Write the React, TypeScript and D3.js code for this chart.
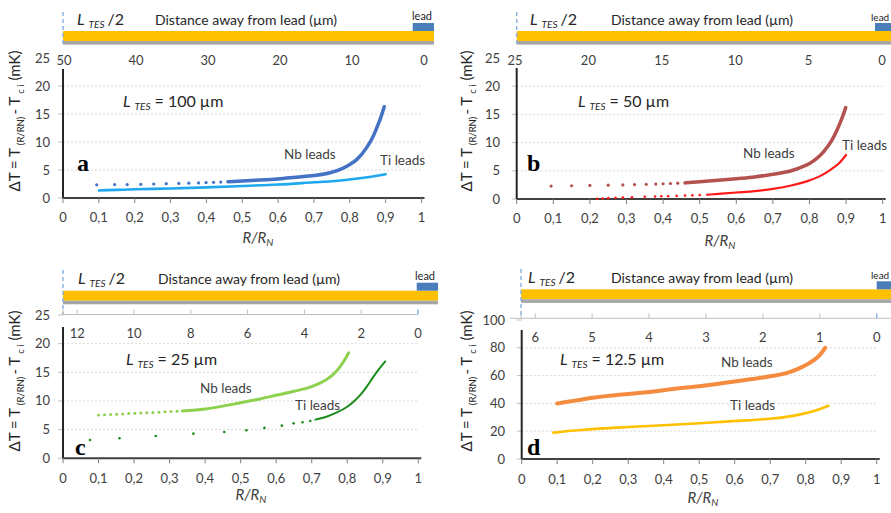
import React from "react";
import * as d3 from "d3";

type Pt = [number, number];

// ---------- ticks & labels ----------
const rTicks = [0, 0.1, 0.2, 0.3, 0.4, 0.5, 0.6, 0.7, 0.8, 0.9, 1];
const rTickLabels = ["0", "0,1", "0,2", "0,3", "0,4", "0,5", "0,6", "0,7", "0,8", "0,9", "1"];
const dTTicksSmall = [0, 5, 10, 15, 20, 25];
const dTTicksLarge = [0, 20, 40, 60, 80, 100];
const distTicksA = [50, 40, 30, 20, 10, 0];
const distTicksB = [25, 20, 15, 10, 5, 0];
const distTicksC = [12, 10, 8, 6, 4, 2, 0];
const distTicksD = [6, 5, 4, 3, 2, 1, 0];
const tesLengths = ["100", "50", "25", "12.5"];
const halfLengths = [50, 25, 12.5, 6.25];
const panelLetters = ["a", "b", "c", "d"];
const seriesNames = ["Nb leads", "Ti leads"];

// ---------- data (R/RN, ΔT mK) ----------
// panel a, L = 100 µm
const nbA_dots: Pt[] = [[0.094, 2.35], [0.144, 2.4], [0.179, 2.4], [0.217, 2.45], [0.253, 2.5], [0.288, 2.55], [0.323, 2.6], [0.351, 2.65], [0.378, 2.7], [0.399, 2.75], [0.42, 2.8], [0.44, 2.85]];
const nbA_curve: Pt[] = [[0.46, 2.9], [0.5, 3.05], [0.55, 3.2], [0.6, 3.4], [0.65, 3.7], [0.7, 4.0], [0.745, 4.5], [0.78, 5.3], [0.8, 6.0], [0.82, 6.9], [0.847, 9.0], [0.865, 11.0], [0.875, 12.5], [0.886, 14.3], [0.896, 16.3]];
const tiA_dots: Pt[] = [];
const tiA_curve: Pt[] = [[0.1, 1.35], [0.15, 1.45], [0.2, 1.55], [0.3, 1.7], [0.4, 1.9], [0.5, 2.15], [0.6, 2.4], [0.7, 2.8], [0.75, 3.0], [0.8, 3.3], [0.85, 3.7], [0.9, 4.25]];
// panel b, L = 50 µm
const nbB_dots: Pt[] = [[0.094, 2.3], [0.15, 2.35], [0.2, 2.4], [0.25, 2.45], [0.29, 2.5], [0.322, 2.55], [0.354, 2.6], [0.38, 2.65], [0.4, 2.7], [0.42, 2.75], [0.44, 2.8]];
const nbB_curve: Pt[] = [[0.46, 2.85], [0.5, 3.05], [0.6, 3.6], [0.65, 3.9], [0.7, 4.4], [0.75, 5.0], [0.78, 5.7], [0.8, 6.3], [0.82, 7.2], [0.84, 8.5], [0.86, 10.3], [0.875, 12.2], [0.888, 14.2], [0.899, 16.2]];
const tiB_dots: Pt[] = [[0.22, 0.05], [0.235, 0.1], [0.25, 0.15], [0.27, 0.2], [0.29, 0.25], [0.315, 0.3], [0.35, 0.4], [0.378, 0.45], [0.395, 0.5], [0.414, 0.5], [0.437, 0.55], [0.46, 0.6], [0.48, 0.65], [0.5, 0.7]];
const tiB_curve: Pt[] = [[0.52, 0.75], [0.6, 1.15], [0.65, 1.4], [0.7, 1.8], [0.75, 2.4], [0.8, 3.3], [0.83, 4.1], [0.86, 5.3], [0.88, 6.3], [0.9, 7.8]];
// panel c, L = 25 µm
const nbC_dots: Pt[] = [[0.1, 7.55], [0.117, 7.6], [0.134, 7.65], [0.151, 7.7], [0.168, 7.75], [0.185, 7.8], [0.202, 7.85], [0.219, 7.9], [0.236, 7.95], [0.253, 8.0], [0.27, 8.05], [0.287, 8.1], [0.304, 8.15], [0.321, 8.2]];
const nbC_curve: Pt[] = [[0.336, 8.25], [0.4, 8.6], [0.45, 9.1], [0.5, 9.7], [0.55, 10.3], [0.6, 11.0], [0.65, 11.7], [0.7, 12.5], [0.738, 13.6], [0.76, 14.6], [0.78, 16.0], [0.795, 17.4], [0.804, 18.4]];
const tiC_dots: Pt[] = [[0.076, 3.2], [0.159, 3.5], [0.261, 3.9], [0.367, 4.3], [0.454, 4.6], [0.516, 4.9], [0.567, 5.3], [0.616, 5.7], [0.649, 6.1], [0.674, 6.3], [0.696, 6.5]];
const tiC_curve: Pt[] = [[0.71, 6.75], [0.743, 7.3], [0.771, 8.0], [0.8, 9.0], [0.82, 10.0], [0.84, 11.3], [0.855, 12.5], [0.87, 13.9], [0.885, 15.2], [0.9, 16.4], [0.907, 16.9]];
// panel d, L = 12.5 µm
const nbD_dots: Pt[] = [];
const nbD_curve: Pt[] = [[0.1, 40], [0.15, 42], [0.2, 44], [0.25, 45.6], [0.3, 46.8], [0.35, 48], [0.4, 49.5], [0.45, 51], [0.5, 52.4], [0.55, 54], [0.6, 55.8], [0.65, 57.5], [0.7, 59.5], [0.75, 62.2], [0.78, 65], [0.81, 69], [0.83, 72.5], [0.845, 76.5], [0.855, 80]];
const tiD_dots: Pt[] = [];
const tiD_curve: Pt[] = [[0.089, 19], [0.15, 20.5], [0.2, 21.5], [0.3, 23], [0.4, 24.3], [0.5, 25.7], [0.6, 27.3], [0.7, 29], [0.75, 30.5], [0.8, 33], [0.83, 35], [0.864, 38.3]];

const FONT = "Lato, 'Open Sans', sans-serif";
const TXT = "#404040";

type Series = { dots: Pt[]; curve: Pt[]; color: string; width: number; r: number };
type Cfg = {
  i: number;
  x0: number; x1: number; yZero: number; yTop: number; yMax: number; yTicks: number[]; yTickX: number;
  axisTop: number;
  topX0: number; topX1: number; topTicks: number[]; topLabelY: number; topLineY?: number; topLineX0?: number; topLineX1?: number;
  barX0: number; barX1: number; barY: number; leadX0: number;
  dashY0: number; dashY1: number;
  hdrY: number; lX: number; distX: number; leadTxtX: number; leadTxtY: number; leadFs: number;
  lenX: number; lenY: number; letX: number; letY: number;
  nbX: number; nbY: number; tiX: number; tiY: number;
  ylX: number; ylY: number; xLabY: number; rX: number; rY: number;
  series: Series[];
};

const cfgs: Cfg[] = [
  {
    i: 0, x0: 63, x1: 421.5, yZero: 198, yTop: 58, yMax: 25, yTicks: dTTicksSmall, yTickX: 50, axisTop: 69,
    topX0: 64, topX1: 424, topTicks: distTicksA, topLabelY: 65,
    barX0: 63, barX1: 434, barY: 31, leadX0: 412.7, dashY0: 12, dashY1: 46,
    hdrY: 25, lX: 77, distX: 155, leadTxtX: 412, leadTxtY: 20, leadFs: 11,
    lenX: 123, lenY: 107, letX: 77, letY: 171, nbX: 284, nbY: 159, tiX: 380, tiY: 165,
    ylX: 20, ylY: 121, xLabY: 222, rX: 258, rY: 243,
    series: [
      { dots: nbA_dots, curve: nbA_curve, color: "#4472c4", width: 3.5, r: 1.6 },
      { dots: tiA_dots, curve: tiA_curve, color: "#1fa8ef", width: 2.6, r: 1.3 },
    ],
  },
  {
    i: 1, x0: 516.7, x1: 882.7, yZero: 199, yTop: 58, yMax: 25, yTicks: dTTicksSmall, yTickX: 500, axisTop: 68,
    topX0: 515, topX1: 882, topTicks: distTicksB, topLabelY: 65,
    barX0: 516.7, barX1: 891, barY: 31, leadX0: 875, dashY0: 12, dashY1: 46,
    hdrY: 25, lX: 530, distX: 611, leadTxtX: 871, leadTxtY: 21, leadFs: 10,
    lenX: 578, lenY: 107, letX: 527, letY: 171, nbX: 743, nbY: 158, tiX: 842, tiY: 150,
    ylX: 472, ylY: 121, xLabY: 223, rX: 720, rY: 246,
    series: [
      { dots: nbB_dots, curve: nbB_curve, color: "#b3514f", width: 3.5, r: 1.6 },
      { dots: tiB_dots, curve: tiB_curve, color: "#ff1a1a", width: 2.2, r: 1.3 },
    ],
  },
  {
    i: 2, x0: 63, x1: 418.3, yZero: 458.3, yTop: 315, yMax: 25, yTicks: dTTicksSmall, yTickX: 50, axisTop: 327,
    topX0: 63, topX1: 418, topTicks: distTicksC, topLabelY: 337.5, topLineY: 314.5, topLineX0: 62, topLineX1: 418,
    barX0: 63, barX1: 438, barY: 290.7, leadX0: 416.7, dashY0: 270, dashY1: 314,
    hdrY: 284, lX: 78, distX: 158, leadTxtX: 415, leadTxtY: 280, leadFs: 11,
    lenX: 126, lenY: 365, letX: 75, letY: 455, nbX: 200, nbY: 393, tiX: 295, tiY: 410,
    ylX: 20, ylY: 381, xLabY: 483, rX: 251, rY: 500,
    series: [
      { dots: nbC_dots, curve: nbC_curve, color: "#8dd14f", width: 3, r: 1.5 },
      { dots: tiC_dots, curve: tiC_curve, color: "#1c8c1c", width: 2, r: 1.3 },
    ],
  },
  {
    i: 3, x0: 521.7, x1: 876.7, yZero: 459, yTop: 320, yMax: 100, yTicks: dTTicksLarge, yTickX: 505, axisTop: 330,
    topX0: 521, topX1: 876.7, topTicks: distTicksD, topLabelY: 342, topLineY: 318.3, topLineX0: 510, topLineX1: 891,
    barX0: 521, barX1: 891, barY: 289.3, leadX0: 876.7, dashY0: 269, dashY1: 318,
    hdrY: 283, lX: 528, distX: 611, leadTxtX: 871, leadTxtY: 279, leadFs: 10,
    lenX: 560, lenY: 365, letX: 527, letY: 455, nbX: 721, nbY: 367, tiX: 730, tiY: 410,
    ylX: 472, ylY: 381, xLabY: 484, rX: 703, rY: 503,
    series: [
      { dots: nbD_dots, curve: nbD_curve, color: "#f58b3e", width: 4, r: 1.8 },
      { dots: tiD_dots, curve: tiD_curve, color: "#ffc000", width: 2.6, r: 1.3 },
    ],
  },
];

function Panel({ c }: { c: Cfg }) {
  const x = d3.scaleLinear().domain([0, 1]).range([c.x0, c.x1]);
  const y = d3.scaleLinear().domain([0, c.yMax]).range([c.yZero, c.yTop]);
  const top = d3.scaleLinear().domain([halfLengths[c.i], 0]).range([c.topX0, c.topX1]);
  const line = d3.line<Pt>().x((d) => x(d[0])).y((d) => y(d[1])).curve(d3.curveMonotoneX);
  return (
    <g fontFamily={FONT}>
      {/* TES strip */}
      <rect x={c.barX0} y={c.barY} width={c.barX1 - c.barX0} height={10} fill="#ffc000" />
      <rect x={c.barX0} y={c.barY + 10} width={c.barX1 - c.barX0} height={3.6} fill="#a6a6a6" />
      <rect x={c.leadX0} y={c.barY - 8} width={c.barX1 - c.leadX0} height={8} fill="#4a7ebb" />
      <line x1={c.barX0} x2={c.barX0} y1={c.dashY0} y2={c.dashY1} stroke="#8db4e2" strokeWidth={1.5} strokeDasharray="4 3" />
      <text x={c.lX} y={c.hdrY} fontSize={16} fill="#262626">
        <tspan fontStyle="italic">L</tspan>
        <tspan fontStyle="italic" fontSize={10} dx={4} dy={3}>TES</tspan>
        <tspan dx={3} dy={-3}>/2</tspan>
      </text>
      <text x={c.distX} y={c.hdrY} fontSize={14} fill="#262626">Distance away from lead (µm)</text>
      <text x={c.leadTxtX} y={c.leadTxtY} fontSize={c.leadFs} fill="#262626">lead</text>

      {/* top distance axis */}
      {c.topLineY !== undefined && (
        <g>
          <line x1={c.topLineX0} x2={c.topLineX1} y1={c.topLineY} y2={c.topLineY} stroke="#bfbfbf" strokeWidth={1} />
          {c.topTicks.concat([halfLengths[c.i]]).map((t, k) => (
            <line key={k} x1={top(t)} x2={top(t)} y1={c.topLineY! - 5} y2={c.topLineY} stroke={t === 0 ? "#8db4e2" : "#bfbfbf"} strokeWidth={t === 0 ? 1.5 : 1} />
          ))}
        </g>
      )}
      {c.topTicks.map((t) => (
        <text key={t} x={top(t)} y={c.topLabelY} fontSize={13} fill={TXT} textAnchor="middle">{t}</text>
      ))}

      {/* grid */}
      {c.yTicks.slice(1, -1).map((t) => (
        <line key={t} x1={c.x0} x2={c.x1} y1={y(t)} y2={y(t)} stroke="#d9d9d9" strokeWidth={1} strokeDasharray="2 2" />
      ))}
      {c.yTicks.map((t) => (
        <g key={t}>
          <line x1={c.x0 - 5} x2={c.x0} y1={y(t)} y2={y(t)} stroke="#bfbfbf" strokeWidth={1} />
          <text x={c.yTickX} y={y(t) + 4.5} fontSize={13} fill={TXT} textAnchor="end">{t}</text>
        </g>
      ))}

      {/* axes */}
      <line x1={c.x0} x2={c.x0} y1={c.axisTop} y2={c.yZero} stroke="#262626" strokeWidth={2} />
      <line x1={c.x0} x2={c.x1 + 3} y1={c.yZero} y2={c.yZero} stroke="#404040" strokeWidth={2} />
      {rTicks.map((t, k) => (
        <g key={k}>
          <line x1={x(t)} x2={x(t)} y1={c.yZero} y2={c.yZero + 5} stroke="#7f7f7f" strokeWidth={1} />
          <text x={x(t)} y={c.xLabY} fontSize={13} fill={TXT} textAnchor="middle">{rTickLabels[k]}</text>
        </g>
      ))}
      <text x={c.rX} y={c.rY} fontSize={15} fill={TXT} textAnchor="middle" fontStyle="italic">
        R/R<tspan fontSize={10} dy={3}>N</tspan>
      </text>

      {/* y label */}
      <text transform={`translate(${c.ylX},${c.ylY}) rotate(-90)`} fontSize={15} fill="#262626" textAnchor="middle">
        ΔT = T<tspan fontSize={9.5} dx={3} dy={4}>(R/RN)</tspan>
        <tspan dx={2} dy={-4}>- T</tspan>
        <tspan fontSize={9.5} dx={3} dy={4}>c i</tspan>
        <tspan dx={4} dy={-4}>(mK)</tspan>
      </text>

      {/* series */}
      {c.series.map((s, k) => (
        <g key={k}>
          <path d={line(s.curve) || ""} fill="none" stroke={s.color} strokeWidth={s.width} strokeLinecap="round" />
          {s.dots.map((p, j) => (
            <circle key={j} cx={x(p[0])} cy={y(p[1])} r={s.r} fill={s.color} />
          ))}
        </g>
      ))}

      {/* annotations */}
      <text x={c.lenX} y={c.lenY} fontSize={16} fill="#262626">
        <tspan fontStyle="italic">L</tspan>
        <tspan fontStyle="italic" fontSize={10} dx={4} dy={3}>TES</tspan>
        <tspan dx={4} dy={-3}>= {tesLengths[c.i]} µm</tspan>
      </text>
      <text x={c.nbX} y={c.nbY} fontSize={13.5} fill={TXT}>{seriesNames[0]}</text>
      <text x={c.tiX} y={c.tiY} fontSize={13.5} fill={TXT}>{seriesNames[1]}</text>
      <text x={c.letX} y={c.letY} fontSize={24} fontWeight="bold" fontFamily="'Liberation Serif', 'DejaVu Serif', serif" fill="#000">{panelLetters[c.i]}</text>
    </g>
  );
}

export default function App() {
  return (
    <svg width={891} height={513} viewBox="0 0 891 513" style={{ position: "absolute", left: 0, top: 0, background: "#fff" }}>
      <rect x={0} y={0} width={891} height={513} fill="#fff" />
      {cfgs.map((c) => (
        <Panel key={c.i} c={c} />
      ))}
    </svg>
  );
}
